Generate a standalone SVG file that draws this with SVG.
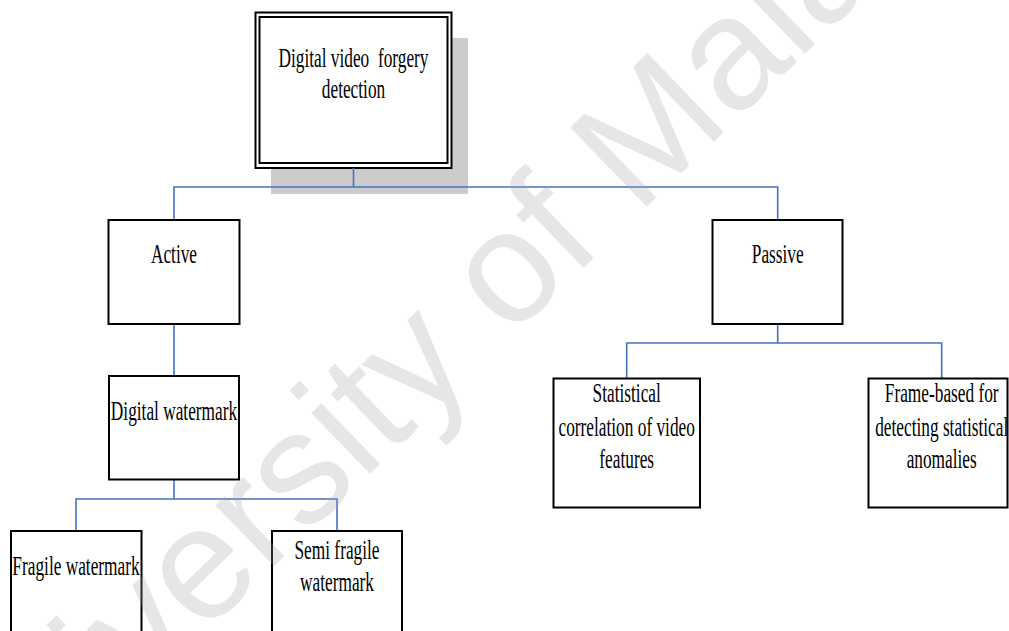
<svg xmlns="http://www.w3.org/2000/svg" width="1009" height="631" viewBox="0 0 1009 631">
  <style>
    .box { fill: #ffffff; stroke: #000000; stroke-width: 2; }
    .link { fill: none; stroke: #4472c4; stroke-width: 1.6; }
    .label { font-family: "Liberation Serif", "Times New Roman", serif; font-size: 17.3px; fill: #000000; text-anchor: middle; }
    .stamp { font-family: "Liberation Sans", Arial, sans-serif; font-size: 160px; fill: #a0a0a0; opacity: 0.25; }
  </style>

  <rect width="1009" height="631" fill="#ffffff"/>

  <!-- root node: double border with drop shadow -->
  <g id="node-root">
    <rect x="271" y="38" width="197" height="156" fill="#cccccc"/>
    <rect x="255.5" y="12.5" width="196" height="155.5" class="box"/>
    <rect x="259.5" y="17" width="188" height="146" fill="none" stroke="#000000" stroke-width="2"/>
    <text class="label" xml:space="preserve" transform="translate(353.5 66.7) scale(1 1.52)">Digital video  forgery</text>
    <text class="label" transform="translate(353.5 98.3) scale(1 1.52)">detection</text>
  </g>

  <g id="connectors">
    <path class="link" d="M353.5 168 V187"/>
    <path class="link" d="M174 220 V187 H777.7 V220"/>
    <path class="link" d="M174 324 V376"/>
    <path class="link" d="M174 479 V499"/>
    <path class="link" d="M76 531 V499 H337 V531"/>
    <path class="link" d="M777.7 324 V343"/>
    <path class="link" d="M626.7 378 V343 H941.7 V378"/>
  </g>

  <g id="node-active">
    <rect x="108.5" y="220" width="131" height="104" class="box"/>
    <text class="label" transform="translate(174 263.3) scale(1 1.52)">Active</text>
  </g>

  <g id="node-passive">
    <rect x="712.5" y="220" width="130" height="104" class="box"/>
    <text class="label" transform="translate(777.7 263.3) scale(1 1.52)">Passive</text>
  </g>

  <g id="node-digital-watermark">
    <rect x="109" y="376" width="130" height="103.5" class="box"/>
    <text class="label" transform="translate(174 420) scale(1 1.52)">Digital watermark</text>
  </g>

  <g id="node-fragile">
    <rect x="11" y="531" width="130.5" height="120" class="box"/>
    <text class="label" transform="translate(76 575) scale(1 1.52)">Fragile watermark</text>
  </g>

  <g id="node-semi-fragile">
    <rect x="272" y="531" width="130" height="120" class="box"/>
    <text class="label" transform="translate(337 559.3) scale(1 1.52)">Semi fragile</text>
    <text class="label" transform="translate(337 590.7) scale(1 1.52)">watermark</text>
  </g>

  <g id="node-statistical">
    <rect x="553.5" y="378.5" width="146.5" height="129" class="box"/>
    <text class="label" transform="translate(626.7 402.3) scale(1 1.52)">Statistical</text>
    <text class="label" transform="translate(626.7 435.5) scale(1 1.52)">correlation of video</text>
    <text class="label" transform="translate(626.7 468.3) scale(1 1.52)">features</text>
  </g>

  <g id="node-frame-based">
    <rect x="868.5" y="378.5" width="139" height="129" class="box"/>
    <text class="label" transform="translate(941.7 402.3) scale(1 1.52)">Frame-based for</text>
    <text class="label" transform="translate(941.7 435.5) scale(1 1.52)">detecting statistical</text>
    <text class="label" transform="translate(941.7 468.3) scale(1 1.52)">anomalies</text>
  </g>

  <!-- faint diagonal stamp across the page -->
  <text class="stamp" transform="translate(-28 858) rotate(-44)">University of Malaya</text>
</svg>
